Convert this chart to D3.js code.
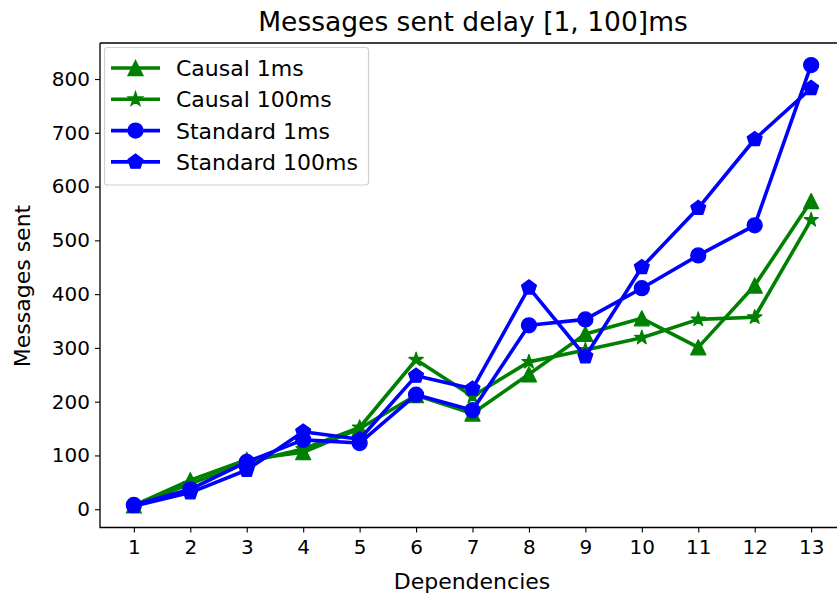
<!DOCTYPE html>
<html><head><meta charset="utf-8">
<script src="https://cdn.jsdelivr.net/npm/d3@7"></script>
<style>body{margin:0;background:#fff}svg{display:block;font-family:"DejaVu Sans",sans-serif}</style>
</head><body><svg id="c" width="837" height="597"></svg>
<script>
const dependencies = [1,2,3,4,5,6,7,8,9,10,11,12,13];
const causal1ms    = [7, 54, 92, 106, 150, 212, 178, 251, 326, 355, 301, 416, 573];
const causal100ms  = [7, 47, 87, 112, 152, 278, 210, 274, 296, 319, 353, 357, 538];
const standard1ms  = [8, 37, 88, 129, 123, 213, 184, 342, 353, 411, 472, 528, 826];
const standard100ms= [6, 31, 73, 144, 130, 248, 224, 412, 284, 450, 560, 688, 783];
const yTicks = [0,100,200,300,400,500,600,700,800];
const seriesNames = ["Causal 1ms","Causal 100ms","Standard 1ms","Standard 100ms"];
const seriesColors = ["#008000","#008000","#0000ff","#0000ff"];
const seriesMarkers = ["triangle","star","circle","pentagon"];
const seriesValues = [causal1ms, causal100ms, standard1ms, standard100ms];

const svg = d3.select("#c");
const L=100, T=43, B=527.5;
const x = d3.scaleLinear().domain([0.4,13.6]).range([L, 845]);
const y = d3.scaleLinear().domain([-34, 867]).range([B, T]);

function markerPath(type){
  const s=7.5;
  if(type==="circle"){const p=d3.path();p.arc(0,0,s,0,2*Math.PI);p.closePath();return p.toString();}
  if(type==="triangle") return `M0,${-s}L${-s},${s}L${s},${s}Z`;
  if(type==="pentagon"){const r=7.8;let pts=[];for(let i=0;i<5;i++){const a=-Math.PI/2+i*2*Math.PI/5;pts.push([r*Math.cos(a),r*Math.sin(a)]);}return "M"+pts.map(p=>p.join(",")).join("L")+"Z";}
  if(type==="star"){const r=7.5, ri=r*0.381966;let pts=[];for(let i=0;i<10;i++){const a=-Math.PI/2+i*Math.PI/5;const rr=i%2?ri:r;pts.push([rr*Math.cos(a),rr*Math.sin(a)]);}return "M"+pts.map(p=>p.join(",")).join("L")+"Z";}
}

svg.append("defs").append("clipPath").attr("id","clip").append("rect").attr("x",L).attr("y",T).attr("width",845-L).attr("height",B-T);

const xAxis = d3.axisBottom(x).tickValues(dependencies).tickSize(5).tickPadding(6).tickFormat(d3.format("d"));
const yAxis = d3.axisLeft(y).tickValues(yTicks).tickSize(5).tickPadding(5);
const gx = svg.append("g").attr("transform",`translate(0,${B})`).call(xAxis);
const gy = svg.append("g").attr("transform",`translate(${L},0)`).call(yAxis);
[gx,gy].forEach(g=>{g.select(".domain").remove();g.selectAll("line").attr("stroke","#000").attr("stroke-width",1.1);g.selectAll("text").attr("font-size",20).attr("fill","#000").attr("font-family","DejaVu Sans");});
gx.selectAll("text").attr("dy","0.78em");

const plot = svg.append("g").attr("clip-path","url(#clip)");
const line = d3.line().x((d,i)=>x(dependencies[i])).y(d=>y(d));
seriesValues.forEach((vals,k)=>{
  plot.append("path").attr("d",line(vals)).attr("fill","none").attr("stroke",seriesColors[k]).attr("stroke-width",3.6).attr("stroke-linejoin","round").attr("stroke-linecap","square");
  plot.selectAll(null).data(vals).enter().append("path")
    .attr("d",markerPath(seriesMarkers[k]))
    .attr("transform",(d,i)=>`translate(${x(dependencies[i])},${y(d)})`)
    .attr("fill",seriesColors[k]).attr("stroke",seriesColors[k]).attr("stroke-width",1.3).attr("stroke-linejoin","round");
});

svg.append("path").attr("d",`M${L},${T}H845M${L},${T}V${B}H845`).attr("fill","none").attr("stroke","#000").attr("stroke-width",1.3);

svg.append("text").attr("x",473).attr("y",31).attr("text-anchor","middle").attr("font-size",26.5).text("Messages sent delay [1, 100]ms");
svg.append("text").attr("x",472).attr("y",589).attr("text-anchor","middle").attr("font-size",22).text("Dependencies");
svg.append("text").attr("transform","translate(30,286) rotate(-90)").attr("text-anchor","middle").attr("font-size",22).text("Messages sent");

const lg = svg.append("g");
lg.append("rect").attr("x",104.5).attr("y",47.5).attr("width",264).attr("height",137.5).attr("rx",3).attr("fill","#fff").attr("fill-opacity",0.8).attr("stroke","#d0d0d0").attr("stroke-width",1.2);
seriesNames.forEach((n,k)=>{
  const yy = 68 + k*31.3;
  lg.append("line").attr("x1",111).attr("x2",160).attr("y1",yy).attr("y2",yy).attr("stroke",seriesColors[k]).attr("stroke-width",3.6);
  lg.append("path").attr("d",markerPath(seriesMarkers[k])).attr("transform",`translate(135.5,${yy})`).attr("fill",seriesColors[k]).attr("stroke",seriesColors[k]).attr("stroke-width",1.3);
  lg.append("text").attr("x",176).attr("y",yy+8).attr("font-size",22).text(n);
});
</script></body></html>
